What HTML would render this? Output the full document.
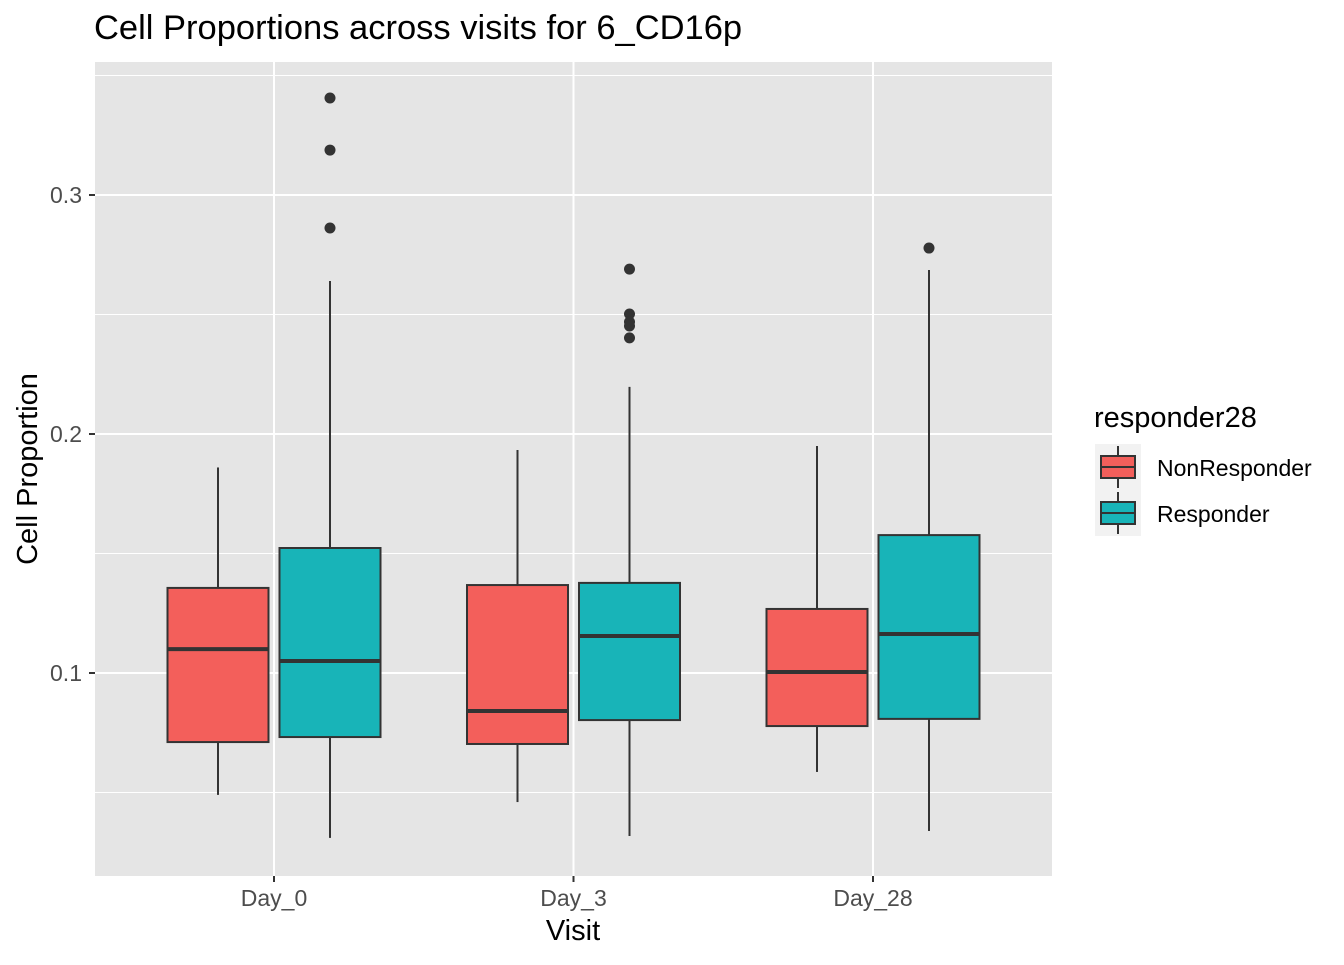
<!DOCTYPE html>
<html><head><meta charset="utf-8"><style>
body{margin:0;background:#fff;font-family:"Liberation Sans",Arial,sans-serif}
</style></head><body>
<svg width="1344" height="960" xmlns="http://www.w3.org/2000/svg" font-family="Liberation Sans, Arial, sans-serif">
<text x="94" y="39" font-size="34.5" fill="#000">Cell Proportions across visits for 6_CD16p</text>
<rect x="95" y="62" width="957" height="814" fill="#e5e5e5"/>
<g id="grid"></g>
<g id="marks"></g>
<g id="axes"></g>
<text x="573" y="940" font-size="29" text-anchor="middle">Visit</text>
<text transform="translate(37,469) rotate(-90)" font-size="29" text-anchor="middle">Cell Proportion</text>
<g>
<text x="1094" y="427" font-size="29">responder28</text>
<g>
<rect x="1095" y="444" width="46" height="46" fill="#f2f2f2"/>
<line x1="1118" y1="446" x2="1118" y2="488" stroke="#333" stroke-width="2"/>
<rect x="1101" y="456" width="34" height="22" fill="#F35F5B" stroke="#333" stroke-width="2"/>
<line x1="1101" y1="467" x2="1135" y2="467" stroke="#333" stroke-width="2"/>
<text x="1157" y="476" font-size="23">NonResponder</text></g>
<g>
<rect x="1095" y="490" width="46" height="46" fill="#f2f2f2"/>
<line x1="1118" y1="492" x2="1118" y2="534" stroke="#333" stroke-width="2"/>
<rect x="1101" y="502" width="34" height="22" fill="#18B4B8" stroke="#333" stroke-width="2"/>
<line x1="1101" y1="513" x2="1135" y2="513" stroke="#333" stroke-width="2"/>
<text x="1157" y="522" font-size="23">Responder</text></g>
</g>
</svg>
<script>
const categories=["Day_0","Day_3","Day_28"];
const groups=["NonResponder","Responder"];
const lowWhisker=[[0.049,0.031],[0.046,0.0318],[0.0586,0.0339]];
const q1=[[0.0711,0.0732],[0.0703,0.0803],[0.0778,0.0808]];
const medians=[[0.110,0.105],[0.0841,0.1155],[0.1004,0.1163]];
const q3=[[0.1356,0.1523],[0.1368,0.1377],[0.1268,0.1577]];
const highWhisker=[[0.186,0.264],[0.1933,0.2197],[0.195,0.2686]];
const outliers=[[[],[0.2862,0.3188,0.3406]],[[],[0.269,0.2502,0.2469,0.2452,0.2402]],[[],[0.2778]]];
const majorTicks=[0.1,0.2,0.3];
const tickLabels=["0.1","0.2","0.3"];
const minorTicks=[0.05,0.15,0.25,0.35];
const colors=["#F35F5B","#18B4B8"];
const NS="http://www.w3.org/2000/svg";
const y=v=>673-(v-0.1)*2390;
const x=i=>274+i*299.5;
function mk(p,t,a){const e=document.createElementNS(NS,t);for(const k in a)e.setAttribute(k,a[k]);p.appendChild(e);return e;}
const grid=document.getElementById('grid'),marks=document.getElementById('marks'),axes=document.getElementById('axes');
minorTicks.forEach(v=>{const l=mk(grid,'line',{x1:95,x2:1052,y1:y(v),y2:y(v),stroke:'#fff','stroke-width':1});

});
majorTicks.forEach((v,i)=>{const l=mk(grid,'line',{x1:95,x2:1052,y1:y(v),y2:y(v),stroke:'#fff','stroke-width':2});


const t=mk(axes,'line',{x1:89,x2:95,y1:y(v),y2:y(v),stroke:'#333','stroke-width':2});


const tx=mk(axes,'text',{x:82,y:y(v)+8,'font-size':23,fill:'#4d4d4d','text-anchor':'end'});tx.textContent=tickLabels[i];

});
categories.forEach((c,i)=>{const l=mk(grid,'line',{x1:x(i),x2:x(i),y1:62,y2:876,stroke:'#fff','stroke-width':2});


const t=mk(axes,'line',{x1:x(i),x2:x(i),y1:876,y2:882,stroke:'#333','stroke-width':2});


const tx=mk(axes,'text',{x:x(i),y:906,'font-size':23,fill:'#4d4d4d','text-anchor':'middle'});tx.textContent=c;


groups.forEach((g,j)=>{const cx=x(i)+(j?56:-56),w=101;
const grp=mk(marks,'g',{});


mk(grp,'line',{x1:cx,x2:cx,y1:y(lowWhisker[i][j]),y2:y(q1[i][j]),stroke:'#333','stroke-width':2});
mk(grp,'line',{x1:cx,x2:cx,y1:y(q3[i][j]),y2:y(highWhisker[i][j]),stroke:'#333','stroke-width':2});
mk(grp,'rect',{x:cx-w/2,y:y(q3[i][j]),width:w,height:y(q1[i][j])-y(q3[i][j]),fill:colors[j],stroke:'#333','stroke-width':2});
mk(grp,'line',{x1:cx-w/2,x2:cx+w/2,y1:y(medians[i][j]),y2:y(medians[i][j]),stroke:'#333','stroke-width':4});
outliers[i][j].forEach(v=>{const p=mk(grp,'circle',{cx:cx,cy:y(v),r:5.5,fill:'#333'});

});
});});
</script>
</body></html>
